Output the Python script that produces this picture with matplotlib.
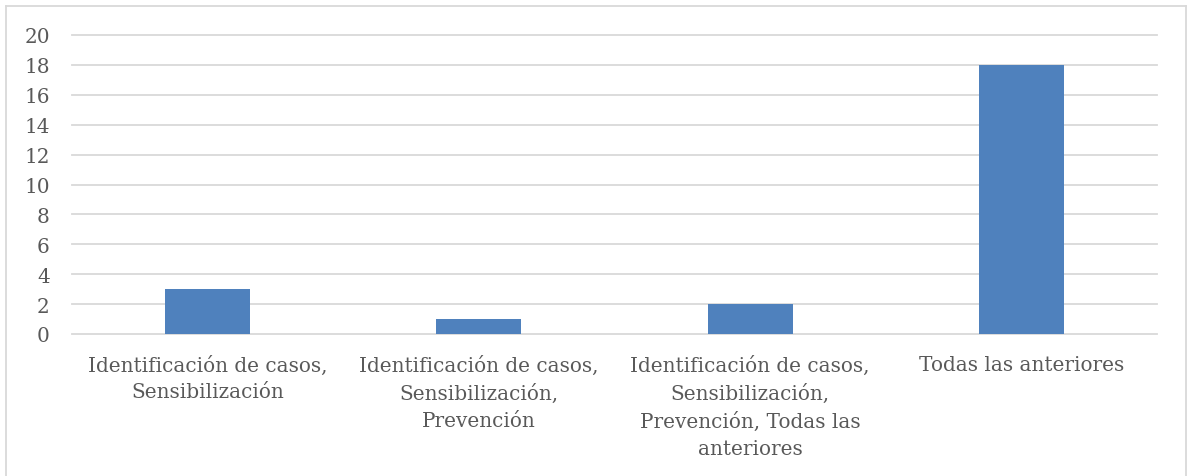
import matplotlib.pyplot as plt
from matplotlib.lines import Line2D

# Respuestas por categoría
categorias = [
    'Identificación de casos,\nSensibilización',
    'Identificación de casos,\nSensibilización,\nPrevención',
    'Identificación de casos,\nSensibilización,\nPrevención, Todas las\nanteriores',
    'Todas las anteriores',
]
valores = [3, 1, 2, 18]
yticks = list(range(0, 21, 2))

texto = '#595959'
plt.rcParams['font.family'] = ['DejaVu Serif']

fig = plt.figure(figsize=(11.89, 4.77), dpi=100)
W, H = 1189, 477
ax = fig.add_axes([72 / W, 1 - 335 / H, (1157 - 72) / W, (335 - 36) / H])

x = list(range(len(categorias)))
ax.bar(x, valores, width=85 / 271.25, color='#4f81bd', zorder=3)

ax.set_xlim(-0.5, len(categorias) - 0.5)
ax.set_ylim(0, 20)
ax.set_yticks(yticks)
ax.set_yticklabels([str(v) for v in yticks], fontsize=14.4, color=texto)
ax.set_xticks(x)
ax.set_xticklabels(categorias, fontsize=14.4, color=texto, linespacing=1.5,
                   va='top')
ax.tick_params(axis='y', length=0, pad=16)
ax.tick_params(axis='x', length=0, pad=15)
ax.grid(axis='y', color='#d9d9d9', linewidth=1.3, zorder=0)
for gl in ax.get_ygridlines():
    gl.set_clip_on(False)
for s in ax.spines.values():
    s.set_visible(False)

# marco del gráfico
borde = dict(color='#d9d9d9', linewidth=1.3, transform=fig.transFigure)
fig.add_artist(Line2D([6 / W, 6 / W], [0, 1 - 7 / H], **borde))
fig.add_artist(Line2D([6 / W, 1186 / W], [1 - 7 / H, 1 - 7 / H], **borde))
fig.add_artist(Line2D([1186 / W, 1186 / W], [0, 1 - 7 / H], **borde))

fig.savefig('out.png', dpi=100)
